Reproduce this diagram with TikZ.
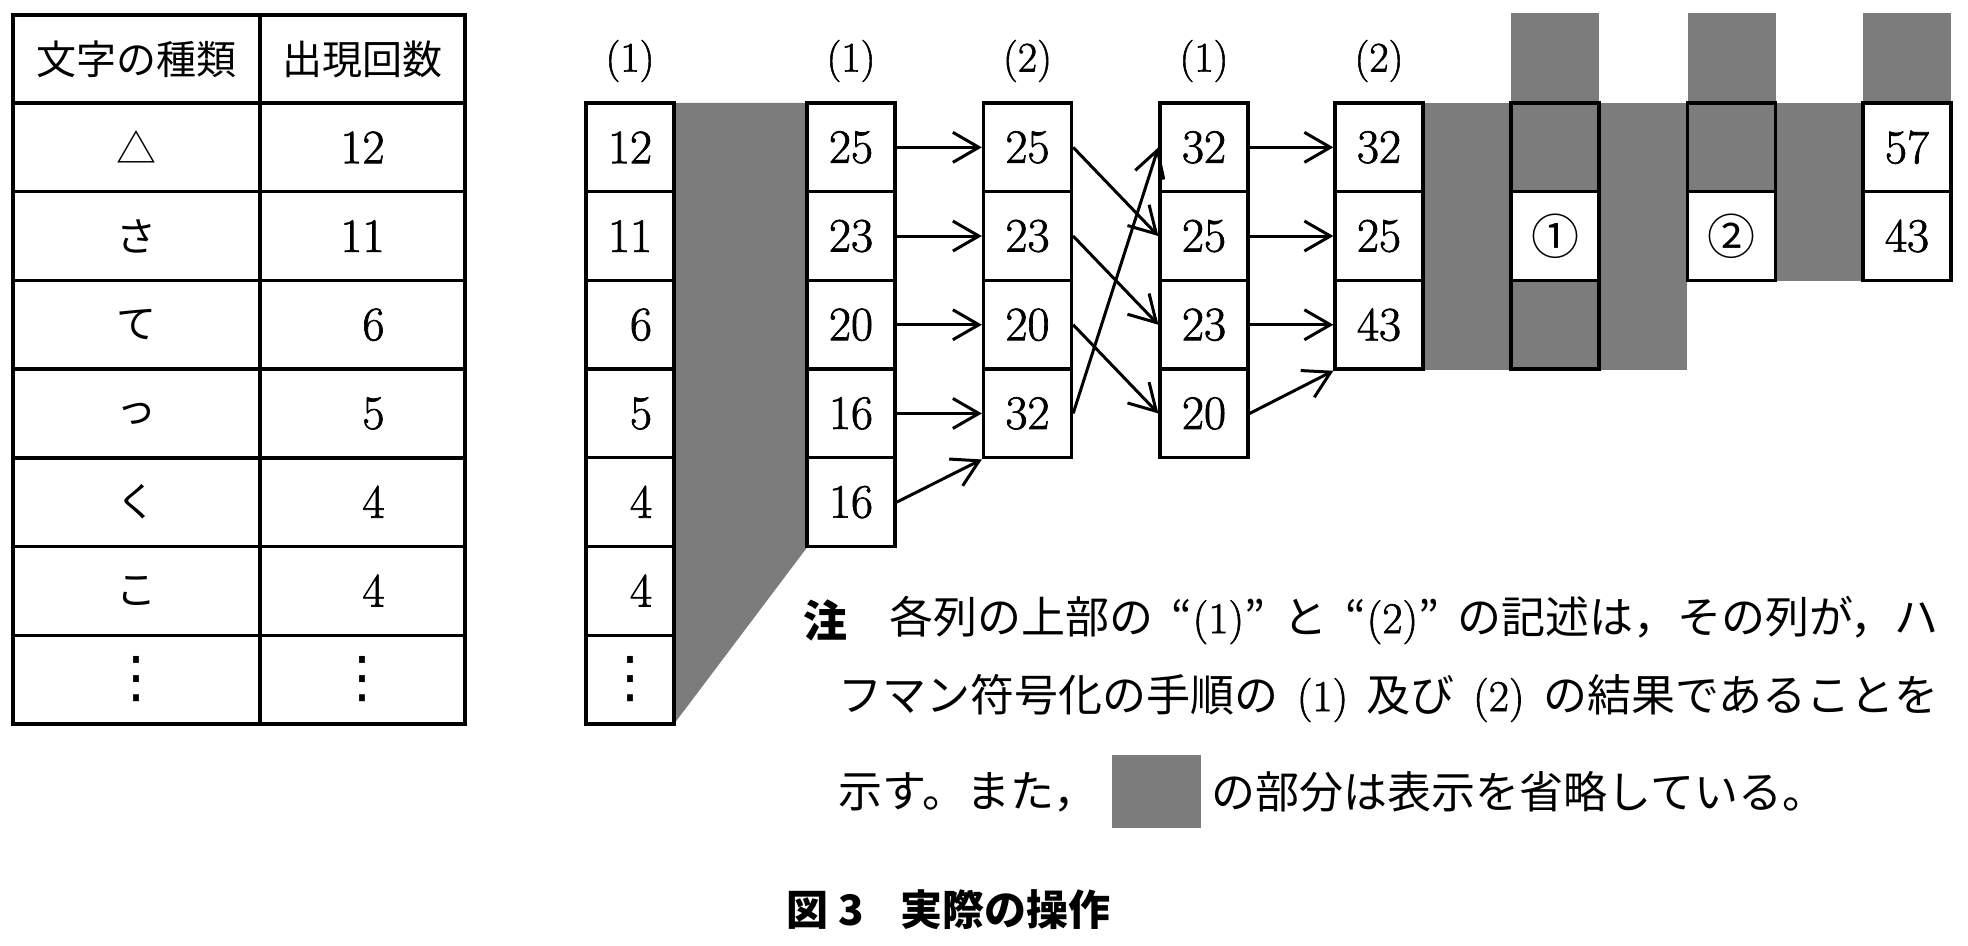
\documentclass[tikz,border=0pt]{standalone}
\usepackage{fontspec}
\newfontfamily\numf{Latin Modern Roman}[FakeBold=1.4]
\newfontfamily\jp{Noto Sans CJK JP}
\newfontfamily\dv{DejaVu Sans}
\usetikzlibrary{arrows.meta}
\definecolor{shade}{RGB}{124,124,124}
\tikzset{
  box/.style={draw, line width=1.65pt, inner sep=0pt, minimum width=44pt, minimum height=44.35pt, fill=white, font=\numf\fontsize{24}{28}\selectfont},
  graybox/.style={box, fill=shade},
  tcell/.style={draw, line width=1.7pt, inner sep=0pt, minimum height=44.35pt, fill=white},
  tA/.style={tcell, minimum width=123.5pt},
  tB/.style={tcell, minimum width=102.5pt},
  jtxt/.style={font=\jp\fontsize{20}{24}\selectfont},
  ntxt/.style={font=\numf\fontsize{24}{28}\selectfont},
  dots/.style={font=\dv\fontsize{28}{32}\selectfont},
  lbl/.style={font=\numf\fontsize{21}{25}\selectfont, inner sep=0pt},
  note/.style={font=\jp\fontsize{22}{26}\selectfont, anchor=west, inner sep=0pt},
  circ/.style={box, font=\jp\fontsize{24}{28}\selectfont},
  arr/.style={line width=1.5pt, -{Straight Barb[length=13pt,width=15pt,line width=1.5pt]}},
  shadefill/.style={fill=shade, draw=none}
}
\def\ryA{147.35}\def\ryB{236.05}\def\ryC{324.75}\def\ryD{413.45}\def\ryE{502.15}\def\ryF{590.85}\def\ryG{679.55}
\def\cxA{630}\def\cxB{851}\def\cxC{1027.5}\def\cxD{1204}\def\cxE{1379}\def\cxF{1555}\def\cxG{1731.5}\def\cxH{1907}
\newcommand\nsp{\hspace{0.42em}}
\newcommand\wsp{\hspace{0.42em}}
\begin{document}
\begin{tikzpicture}[x=0.5pt,y=-0.5pt]
\useasboundingbox (0,0) rectangle (1968,946);
% ---------- table ----------
\node[tA, minimum height=44pt, jtxt] (h1) at (136.5,59) {文字の種類};
\node[tB, minimum height=44pt, jtxt] (h2) at (362.5,59) {出現回数};
\node[tA, jtxt] (k1) at (136.5,\ryA) {△};
\node[tB, ntxt] (v1) at (362.5,\ryA) {12};
\node[tA, jtxt] (k2) at (136.5,\ryB) {さ};
\node[tB, ntxt] (v2) at (362.5,\ryB) {11};
\node[tA, jtxt] (k3) at (136.5,\ryC) {て};
\node[tB, ntxt] (v3) at (362.5,\ryC) {\phantom{0}6};
\node[tA, jtxt] (k4) at (136.5,\ryD) {っ};
\node[tB, ntxt] (v4) at (362.5,\ryD) {\phantom{0}5};
\node[tA, jtxt] (k5) at (136.5,\ryE) {く};
\node[tB, ntxt] (v5) at (362.5,\ryE) {\phantom{0}4};
\node[tA, jtxt] (k6) at (136.5,\ryF) {こ};
\node[tB, ntxt] (v6) at (362.5,\ryF) {\phantom{0}4};
\node[tA, dots] (k7) at (136.5,\ryG) {⋮};
\node[tB, dots] (v7) at (362.5,\ryG) {⋮};
% ---------- gray areas ----------
\fill[shadefill] (674,103) -- (807,103) -- (807,547.5) -- (674,724) -- cycle;
\fill[shadefill] (1423,103) rectangle (1687,370);
\fill[shadefill] (1776,103) rectangle (1862,281);
\fill[shadefill] (1511,13) rectangle (1599,103);
\fill[shadefill] (1687.5,13) rectangle (1775.5,103);
\fill[shadefill] (1863,13) rectangle (1951,103);
% ---------- column labels ----------
\node[lbl] (L1) at (\cxA,61) {(1)};
\node[lbl] (L2) at (\cxB,61) {(1)};
\node[lbl] (L3) at (\cxC,61) {(2)};
\node[lbl] (L4) at (\cxD,61) {(1)};
\node[lbl] (L5) at (\cxE,61) {(2)};
% ---------- column 1 ----------
\node[box] (a1) at (\cxA,\ryA) {12};
\node[box] (a2) at (\cxA,\ryB) {11};
\node[box] (a3) at (\cxA,\ryC) {\phantom{0}6};
\node[box] (a4) at (\cxA,\ryD) {\phantom{0}5};
\node[box] (a5) at (\cxA,\ryE) {\phantom{0}4};
\node[box] (a6) at (\cxA,\ryF) {\phantom{0}4};
\node[box, dots] (a7) at (\cxA,\ryG) {⋮};
% ---------- column 2 ----------
\node[box] (b1) at (\cxB,\ryA) {25};
\node[box] (b2) at (\cxB,\ryB) {23};
\node[box] (b3) at (\cxB,\ryC) {20};
\node[box] (b4) at (\cxB,\ryD) {16};
\node[box] (b5) at (\cxB,\ryE) {16};
% ---------- column 3 ----------
\node[box] (c1) at (\cxC,\ryA) {25};
\node[box] (c2) at (\cxC,\ryB) {23};
\node[box] (c3) at (\cxC,\ryC) {20};
\node[box] (c4) at (\cxC,\ryD) {32};
% ---------- column 4 ----------
\node[box] (d1) at (\cxD,\ryA) {32};
\node[box] (d2) at (\cxD,\ryB) {25};
\node[box] (d3) at (\cxD,\ryC) {23};
\node[box] (d4) at (\cxD,\ryD) {20};
% ---------- column 5 ----------
\node[box] (e1) at (\cxE,\ryA) {32};
\node[box] (e2) at (\cxE,\ryB) {25};
\node[box] (e3) at (\cxE,\ryC) {43};
% ---------- column 6 ----------
\node[graybox] (f1) at (\cxF,\ryA) {};
\node[circ] (f2) at (\cxF,\ryB) {①};
\node[graybox] (f3) at (\cxF,\ryC) {};
% ---------- column 7 ----------
\node[graybox] (g1) at (\cxG,\ryA) {};
\node[circ] (g2) at (\cxG,\ryB) {②};
% ---------- column 8 ----------
\node[box] (h81) at (\cxH,\ryA) {57};
\node[box] (h82) at (\cxH,\ryB) {43};
% ---------- arrows ----------
\draw[arr] (b1.east) -- (c1.west);
\draw[arr] (b2.east) -- (c2.west);
\draw[arr] (b3.east) -- (c3.west);
\draw[arr] (b4.east) -- (c4.west);
\draw[arr] (b5.east) -- (c4.south west);
\draw[arr] (c1.east) -- (d2.west);
\draw[arr] (c2.east) -- (d3.west);
\draw[arr] (c3.east) -- (d4.west);
\draw[arr] (c4.east) -- (d1.west);
\draw[arr] (d1.east) -- (e1.west);
\draw[arr] (d2.east) -- (e2.west);
\draw[arr] (d3.east) -- (e3.west);
\draw[arr] (d4.east) -- (e3.south west);
% ---------- note ----------
\node[note] (chu) at (803,620) {\bfseries 注};
\node[note] (n1) at (889,620) {各列の上部の\nsp“{\numf (1)}”\nsp と\nsp“{\numf (2)}”\nsp の記述は，その列が，ハ};
\node[note] (n2) at (838,698) {フマン符号化の手順の\wsp{\numf (1)}\wsp 及び\wsp{\numf (2)}\wsp の結果であることを};
\node[note] (n3a) at (838,792) {示す。また，};
\node[fill=shade, draw=none, minimum width=44.5pt, minimum height=36.5pt, inner sep=0pt] (legend) at (1156.5,791.5) {};
\node[note] (n3b) at (1211,792) {の部分は表示を省略している。};
% ---------- caption ----------
\node[font=\jp\bfseries\fontsize{21}{25}\selectfont, anchor=west, inner sep=0pt] (cap) at (786,910) {図\hspace{0.25em}3\hspace{0.85em}実際の操作};
\end{tikzpicture}
\end{document}
